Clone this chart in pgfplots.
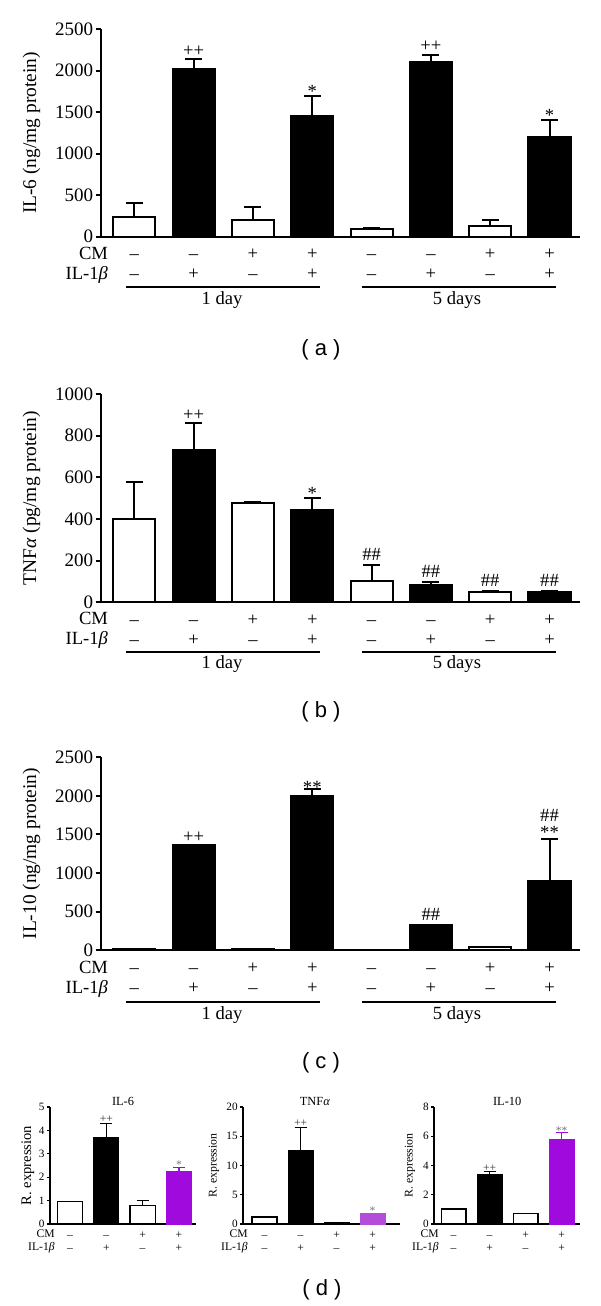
\documentclass[border=0pt]{standalone}
\usepackage{pgfplots}
\pgfplotsset{compat=1.18}
\usepackage{fontspec}
\setmainfont{Liberation Serif}
\newfontfamily\sansf{Liberation Sans}
\definecolor{purpA}{HTML}{A00ADC}
\definecolor{purpB}{HTML}{B44ED8}
\newcommand{\fT}{\fontsize{9.5}{10}\selectfont}
\newcommand{\fR}{\fontsize{9.3}{10}\selectfont}
\newcommand{\fL}{\fontsize{9.7}{11}\selectfont}
\newcommand{\fP}{\sansf\fontsize{11}{12}\selectfont}
\newcommand{\fD}{\fontsize{5.8}{6.5}\selectfont}
\newcommand{\s}[2]{\strut#1\\\strut#2}
\pgfplotsset{
  big/.style={
    scale only axis, width=239.2pt, xmin=-0.555, xmax=7.51, ymin=0,
    axis lines*=left, axis line style={line width=1pt,-},
    clip=false, ybar, bar width=0.71,
    xtick align=inside, ytick align=outside, major tick length=2.9pt,
    ytick style={line width=1pt, black}, xtick style={draw=none},
    /pgf/number format/assume math mode=true, /pgf/number format/1000 sep={},
    scaled y ticks=false,
    yticklabel style={font=\fT, inner sep=1pt},
    xtick={0,...,7},
    xticklabels={{\s{–}{–}},{\s{–}{+}},{\s{+}{–}},{\s{+}{+}},{\s{–}{–}},{\s{–}{+}},{\s{+}{–}},{\s{+}{+}}},
    xticklabel style={font=\fR, align=center, anchor=north, inner sep=0pt},
    ylabel style={font=\fL, at={(axis description cs:-0.1463,0.5)}, anchor=center},
  },
  small/.style={
    scale only axis, height=58.5pt, ymin=0,
    axis lines*=left, axis line style={line width=0.6pt,-},
    clip=false, ybar, bar width=0.69,
    xtick align=inside, ytick align=outside, major tick length=1.5pt,
    ytick style={line width=0.6pt, black}, xtick style={draw=none},
    /pgf/number format/assume math mode=true,
    yticklabel style={font=\fontsize{5.6}{6}\selectfont, inner sep=1pt},
    xtick={0,...,3},
    xticklabels={{\s{–}{–}},{\s{–}{+}},{\s{+}{–}},{\s{+}{+}}},
    xticklabel style={font=\fD, align=center, anchor=north, inner sep=0pt, yshift=-2.4pt},
  },
  wb/.style={fill=white, draw=black, line width=1pt, bar shift=0pt},
  bb/.style={fill=black, draw=black, line width=1pt, bar shift=0pt},
  eb/.style={error bars/.cd, y dir=plus, y explicit,
    error bar style={line width=1pt, black},
    error mark options={rotate=90, line width=1pt, mark size=4.25pt, black}},
  swb/.style={fill=white, draw=black, line width=0.6pt, bar shift=0pt},
  sbb/.style={fill=black, draw=black, line width=0.6pt, bar shift=0pt},
  seb/.style={error bars/.cd, y dir=plus, y explicit,
    error bar style={line width=0.6pt, #1},
    error mark options={rotate=90, line width=0.6pt, mark size=3pt, #1}},
  seb/.default=black,
}
\tikzset{
  pp/.style={anchor=base, font=\fR, inner sep=0pt, yshift=1.4pt},
  st/.style={anchor=base, font=\fR, inner sep=0pt, yshift=-1pt},
  hh/.style={anchor=base, font=\fR, inner sep=0pt, yshift=2.3pt},
  rl/.style={anchor=base east, font=\fR, inner sep=0pt},
  dpp/.style={anchor=base, font=\fD, inner sep=0pt, yshift=0.6pt, black!80},
  dst/.style={anchor=base, font=\fD, inner sep=0pt, yshift=-0.8pt, black!55},
}
\begin{document}
\begin{tikzpicture}
\useasboundingbox (0,0) rectangle (300pt,653pt);
% ---------------- (a)
\begin{axis}[big, at={(50.7pt,534.65pt)}, anchor=south west, height=103.7pt,
  ymax=2500, ytick={0,500,...,2500}, ylabel={IL-6 (ng/mg protein)},
  xticklabel style={yshift=-4.4pt}]
\addplot[wb, eb] coordinates {(0,241) +- (0,161) (2,201) +- (0,161) (4,88) +- (0,12) (6,129) +- (0,76)};
\addplot[bb, eb] coordinates {(1,2022) +- (0,116) (3,1459) +- (0,237) (5,2102) +- (0,93) (7,1206) +- (0,205)};
\node[pp] at (axis cs:1,2138) {++};
\node[pp] at (axis cs:5,2195) {++};
\node[st] at (axis cs:3,1696) {*};
\node[st] at (axis cs:7,1411) {*};
\node[rl] at ([xshift=3.5pt,yshift=-11.4pt]rel axis cs:0,0) {CM};
\node[rl] at ([xshift=3.5pt,yshift=-21.4pt]rel axis cs:0,0) {IL-1\textit{β}};
\draw[line width=1pt] ([yshift=-25.3pt]axis cs:-0.135,0) -- ([yshift=-25.3pt]axis cs:3.125,0);
\draw[line width=1pt] ([yshift=-25.3pt]axis cs:3.835,0) -- ([yshift=-25.3pt]axis cs:7.106,0);
\node[font=\fR] at ([yshift=-31.6pt]axis cs:1.48,0) {1 day};
\node[font=\fR] at ([yshift=-31.6pt]axis cs:5.44,0) {5 days};
\end{axis}
\node[font=\fP] at (160.5pt,478pt) {( a )};
% ---------------- (b)
\begin{axis}[big, at={(50.7pt,351.85pt)}, anchor=south west, height=104.15pt,
  ymax=1000, ytick={0,200,...,1000}, ylabel={TNF\textit{α} (pg/mg protein)},
  xticklabel style={yshift=-4.3pt}]
\addplot[wb, eb] coordinates {(0,400) +- (0,176) (2,475) +- (0,5) (4,102) +- (0,77) (6,51) +- (0,5)};
\addplot[bb, eb] coordinates {(1,731) +- (0,128) (3,445) +- (0,56) (5,83) +- (0,13) (7,51) +- (0,5)};
\node[pp] at (axis cs:1,859) {++};
\node[st] at (axis cs:3,501) {*};
\node[hh] at (axis cs:4,179) {\#\#};
\node[hh] at (axis cs:5,96) {\#\#};
\node[hh] at (axis cs:6,56) {\#\#};
\node[hh] at (axis cs:7,56) {\#\#};
\node[rl] at ([xshift=3.5pt,yshift=-11.3pt]rel axis cs:0,0) {CM};
\node[rl] at ([xshift=3.5pt,yshift=-21.3pt]rel axis cs:0,0) {IL-1\textit{β}};
\draw[line width=1pt] ([yshift=-25pt]axis cs:-0.135,0) -- ([yshift=-25pt]axis cs:3.125,0);
\draw[line width=1pt] ([yshift=-25pt]axis cs:3.835,0) -- ([yshift=-25pt]axis cs:7.106,0);
\node[font=\fR] at ([yshift=-30.8pt]axis cs:1.48,0) {1 day};
\node[font=\fR] at ([yshift=-30.8pt]axis cs:5.44,0) {5 days};
\end{axis}
\node[font=\fP] at (160.5pt,297.15pt) {( b )};
% ---------------- (c)
\begin{axis}[big, at={(50.7pt,177.85pt)}, anchor=south west, height=96.5pt,
  ymax=2500, ytick={0,500,...,2500}, ylabel={IL-10 (ng/mg protein)},
  xticklabel style={yshift=-4.55pt}]
\addplot[wb] coordinates {(0,17) (2,22) (4,0) (6,47)};
\addplot[bb, eb] coordinates {(1,1360) +- (0,0) (3,2003) +- (0,82) (5,332) +- (0,0) (7,894) +- (0,548)};
\node[pp] at (axis cs:1,1360) {++};
\node[st, yshift=-1pt] at (axis cs:3,2085) {**};
\node[hh, yshift=-0.3pt] at (axis cs:5,332) {\#\#};
\node[st, yshift=1pt] at (axis cs:7,1442) {**};
\node[hh, yshift=6.2pt] at (axis cs:7,1442) {\#\#};
\node[rl] at ([xshift=3.5pt,yshift=-11.75pt]rel axis cs:0,0) {CM};
\node[rl] at ([xshift=3.5pt,yshift=-21.75pt]rel axis cs:0,0) {IL-1\textit{β}};
\draw[line width=1pt] ([yshift=-25.7pt]axis cs:-0.135,0) -- ([yshift=-25.7pt]axis cs:3.125,0);
\draw[line width=1pt] ([yshift=-25.7pt]axis cs:3.835,0) -- ([yshift=-25.7pt]axis cs:7.106,0);
\node[font=\fR] at ([yshift=-32.35pt]axis cs:1.48,0) {1 day};
\node[font=\fR] at ([yshift=-32.35pt]axis cs:5.44,0) {5 days};
\end{axis}
\node[font=\fP] at (160.5pt,121.5pt) {( c )};
% ---------------- (d) IL-6
\begin{axis}[small, at={(25pt,41pt)}, anchor=south west, width=73pt,
  xmin=-0.551, xmax=3.47, ymax=5, ytick={0,1,...,5},
  ylabel={R. expression}, ylabel style={font=\fontsize{7.3}{8}\selectfont, at={(axis description cs:-0.151,0.5)}, anchor=center}]
\addplot[swb, seb] coordinates {(0,0.96) +- (0,0) (2,0.79) +- (0,0.20)};
\addplot[sbb, seb] coordinates {(1,3.68) +- (0,0.60)};
\addplot[fill=purpA, draw=purpA, line width=0.6pt, bar shift=0pt, seb=purpA] coordinates {(3,2.25) +- (0,0.17)};
\node[dpp] at (axis cs:1,4.28) {++};
\node[dst] at (axis cs:3,2.42) {*};
\node[font=\fontsize{6.2}{7}\selectfont] at ([yshift=2.7pt]axis cs:1.46,5) {IL-6};
\node[rl, font=\fD] at ([xshift=2.5pt,yshift=-6.95pt]rel axis cs:0,0) {CM};
\node[rl, font=\fD] at ([xshift=2.5pt,yshift=-13.45pt]rel axis cs:0,0) {IL-1\textit{β}};
\end{axis}
% ---------------- (d) TNF
\begin{axis}[small, at={(121.5pt,41pt)}, anchor=south west, width=78.5pt,
  xmin=-0.597, xmax=3.76, ymax=20, ytick={0,5,...,20},
  ylabel={R. expression}, ylabel style={font=\fontsize{5.9}{7}\selectfont, at={(axis description cs:-0.185,0.5)}, anchor=center}]
\addplot[swb] coordinates {(0,1.18) (2,0.22)};
\addplot[sbb, seb] coordinates {(1,12.6) +- (0,3.9)};
\addplot[fill=purpB, draw=purpB, line width=0.6pt, bar shift=0pt, seb=purpB] coordinates {(3,1.74) +- (0,0.1)};
\node[dpp] at (axis cs:1,16.5) {++};
\node[dst] at (axis cs:3,1.85) {*};
\node[font=\fontsize{6.2}{7}\selectfont] at ([yshift=2.7pt]axis cs:1.4,20) {TNF\textit{α}};
\node[rl, font=\fD] at ([xshift=2.5pt,yshift=-6.95pt]rel axis cs:0,0) {CM};
\node[rl, font=\fD] at ([xshift=2.5pt,yshift=-13.45pt]rel axis cs:0,0) {IL-1\textit{β}};
\end{axis}
% ---------------- (d) IL-10
\begin{axis}[small, at={(217pt,41pt)}, anchor=south west, width=73pt,
  xmin=-0.542, xmax=3.51, ymax=8, ytick={0,2,...,8},
  ylabel={R. expression}, ylabel style={font=\fontsize{5.9}{7}\selectfont, at={(axis description cs:-0.164,0.5)}, anchor=center}]
\addplot[swb] coordinates {(0,1.02) (2,0.70)};
\addplot[sbb, seb] coordinates {(1,3.40) +- (0,0.18)};
\addplot[fill=purpA, draw=purpA, line width=0.6pt, bar shift=0pt, seb=purpA] coordinates {(3,5.80) +- (0,0.46)};
\node[dpp, yshift=-0.4pt] at (axis cs:1,3.58) {++};
\node[dst] at (axis cs:3,6.26) {**};
\node[font=\fontsize{6.2}{7}\selectfont] at ([yshift=2.7pt]axis cs:1.49,8) {IL-10};
\node[rl, font=\fD] at ([xshift=2.5pt,yshift=-6.95pt]rel axis cs:0,0) {CM};
\node[rl, font=\fD] at ([xshift=2.5pt,yshift=-13.45pt]rel axis cs:0,0) {IL-1\textit{β}};
\end{axis}
\node[font=\fP] at (161pt,8pt) {( d )};
\end{tikzpicture}
\end{document}
